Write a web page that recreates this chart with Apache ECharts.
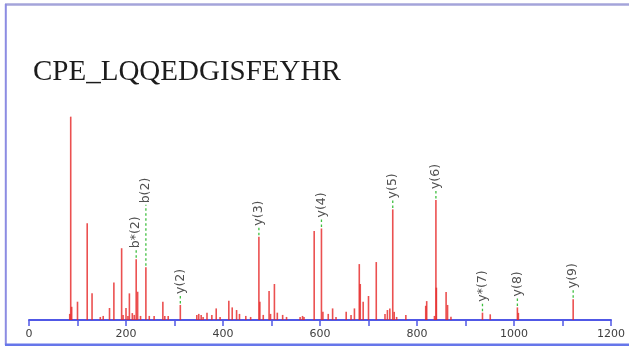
<!DOCTYPE html>
<html>
<head>
<meta charset="utf-8">
<script src="https://cdn.jsdelivr.net/npm/echarts@6/dist/echarts.min.js"></script>
<style>
html,body{margin:0;padding:0;background:#fff;}
#chart{width:629px;height:347px;}
</style>
</head>
<body>
<div id="chart"></div>
<script>
// ---- data ----
var titleText = 'CPE_LQQEDGISFEYHR';
var peakMz = [84, 86, 88, 100, 120, 130, 147, 153, 166, 175, 191, 194, 200, 204, 207, 213, 217, 221, 224, 230, 241, 248, 258, 276, 280, 287, 312,
  346, 350, 355, 359, 367, 377, 386, 394, 412, 419, 428, 434, 447, 457, 474, 476, 483, 495, 498, 506, 512, 523, 531,
  559, 564, 567, 588, 603, 606, 617, 626, 633, 654, 664, 671, 681, 683, 689, 700, 716, 734, 739, 744, 750, 753,
  758, 777, 818, 820, 836, 839, 840, 860, 863, 870, 935, 951, 1007, 1009, 1122];
var peakIntensity = [3, 100, 6.5, 9, 47.6, 13.1, 1.5, 2, 5.9, 18.5, 35.3, 2.5, 5.9, 2, 13.1, 3.4, 2.5, 29.9, 13.9, 2, 25.9, 2, 2, 9, 2, 2, 7.4,
  2.5, 3, 2.5, 1.5, 3.6, 2.5, 5.7, 1.5, 9.5, 6.2, 4.9, 3, 2, 1.5, 41, 9, 2.5, 14.3, 3, 17.7, 3.6, 2.5, 1.5,
  1.5, 2, 1.5, 43.8, 45, 4, 3, 5.7, 1.5, 4, 2.5, 5.7, 27.5, 17.7, 9, 11.8, 28.5, 3, 4.9, 5.7, 54.4, 4,
  1.5, 2.5, 7, 9.3, 2, 59, 15.9, 13.8, 7.4, 1.6, 3.6, 2.8, 6.2, 3.5, 10.2];
var annLabels = ['b*(2)', 'b(2)', 'y(2)', 'y(3)', 'y(4)', 'y(5)', 'y(6)', 'y*(7)', 'y(8)', 'y(9)'];
var annMz = [221, 241, 312, 474, 603, 750, 839, 935, 1007, 1122];
var xTickLabels = [0, 200, 400, 600, 800, 1000, 1200];

// ---- build ----
var peaks = peakMz.map(function (m, i) { return [m, peakIntensity[i]]; });
var anns = annMz.map(function (m, i) {
  var idx = peakMz.indexOf(m);
  return [m, peakIntensity[idx], i];
});

var annFont = '12.5px "DejaVu Sans"';
var measureCtx = document.createElement('canvas').getContext('2d');
measureCtx.font = annFont;
function textLen(t) { return measureCtx.measureText(t).width; }

var chart = echarts.init(document.getElementById('chart'), null, {renderer: 'canvas'});

// label layout (in pixels, via the chart's own scale)
var annLayoutCache = null;
function layoutAnnotations(api) {
  var res = [];
  for (var i = 0; i < anns.length; i++) {
    var p = api.coord([anns[i][0], anns[i][1]]);
    var len = textLen(annLabels[i]);
    var bottom = p[1] - 11;
    for (var j = 0; j < res.length; j++) {
      if (Math.abs(res[j].x - p[0]) < 14) {
        var top = res[j].bottom - res[j].len;
        if (bottom > top - 4 && bottom - len < res[j].bottom) {
          bottom = top - 13;
        }
      }
    }
    res.push({x: p[0], peakY: p[1], bottom: bottom, len: len});
  }
  return res;
}

var option = {
  animation: false,
  backgroundColor: '#ffffff',
  grid: {left: 29, right: 18, bottom: 27, top: 106.5, containLabel: false},
  xAxis: {
    type: 'value', min: 0, max: 1200, interval: 100,
    splitLine: {show: false},
    axisLine: {show: true, lineStyle: {color: '#5058e6', width: 2}},
    axisTick: {show: true, length: 6, lineStyle: {color: '#5058e6', width: 1.5}},
    axisLabel: {
      color: '#404040', fontSize: 11, fontFamily: 'DejaVu Sans', margin: 9,
      formatter: function (v) { return xTickLabels.indexOf(v) >= 0 ? String(v) : ''; }
    }
  },
  yAxis: {type: 'value', min: 0, max: 105, show: false},
  graphic: [
    {type: 'line', shape: {x1: 5, y1: 4.5, x2: 629, y2: 4.5}, style: {stroke: '#a4a4da', lineWidth: 2.5}, silent: true},
    {type: 'line', shape: {x1: 5.8, y1: 4, x2: 5.8, y2: 345}, style: {stroke: '#8c8ce2', lineWidth: 2}, silent: true},
    {type: 'line', shape: {x1: 5, y1: 344.8, x2: 629, y2: 344.8}, style: {stroke: '#6676ea', lineWidth: 2.5}, silent: true},
    {type: 'text', x: 33, y: 72, style: {text: titleText, font: '29px "Liberation Serif"', fill: '#1c1c1c', verticalAlign: 'middle', align: 'left'}, silent: true}
  ],
  series: [
    {
      type: 'custom',
      coordinateSystem: 'cartesian2d',
      data: peaks,
      encode: {x: 0, y: 1},
      renderItem: function (params, api) {
        var p0 = api.coord([api.value(0), 0]);
        var p1 = api.coord([api.value(0), api.value(1)]);
        return {
          type: 'line',
          shape: {x1: p0[0], y1: p0[1], x2: p1[0], y2: p1[1]},
          style: {stroke: 'rgba(230,36,36,0.8)', lineWidth: 1.6}
        };
      },
      z: 2
    },
    {
      type: 'custom',
      coordinateSystem: 'cartesian2d',
      data: anns,
      encode: {x: 0, y: 1},
      renderItem: function (params, api) {
        if (params.dataIndex === 0 || !annLayoutCache) annLayoutCache = layoutAnnotations(api);
        var L = annLayoutCache[params.dataIndex];
        return {
          type: 'group',
          children: [
            {
              type: 'line',
              shape: {x1: L.x, y1: L.peakY - 1.5, x2: L.x, y2: L.bottom + 1.5},
              style: {stroke: '#3fbf3f', lineWidth: 1.3, lineDash: [2.5, 2.5]}
            },
            {
              type: 'text',
              x: L.x, y: L.bottom, rotation: Math.PI / 2,
              style: {text: annLabels[params.dataIndex], font: annFont, fill: '#505050', align: 'left', verticalAlign: 'middle'}
            }
          ]
        };
      },
      z: 3
    }
  ]
};
chart.setOption(option);
</script>
</body>
</html>
